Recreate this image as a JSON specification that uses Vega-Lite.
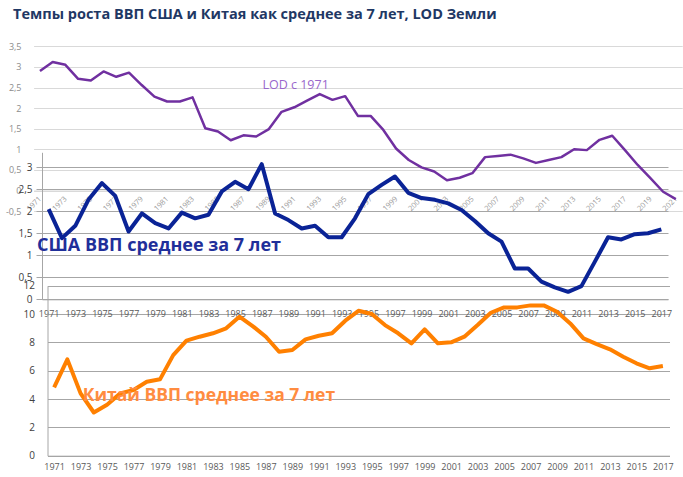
{
  "$schema": "https://vega.github.io/schema/vega-lite/v6.json",
  "width": 683,
  "height": 477,
  "autosize": {"type": "none"},
  "padding": 0,
  "background": "white",
  "title": {"text": "Темпы роста ВВП США и Китая как среднее за 7 лет, LOD Земли", "anchor": "start", "frame": "group", "dx": 13, "dy": 22, "offset": 0, "font": "Open Sans", "fontSize": 14.5, "fontWeight": "bold", "color": "#1F3864"},
  "config": {"view": {"stroke": null}, "axis": {"labelFont": "Open Sans", "ticks": false, "labelOverlap": false, "labelFlush": false, "title": null}},
  "datasets": {
    "lod": [
      {"year": 1971, "value": 2.90}, {"year": 1972, "value": 3.12}, {"year": 1973, "value": 3.05}, {"year": 1974, "value": 2.71},
      {"year": 1975, "value": 2.67}, {"year": 1976, "value": 2.89}, {"year": 1977, "value": 2.76}, {"year": 1978, "value": 2.86},
      {"year": 1979, "value": 2.56}, {"year": 1980, "value": 2.28}, {"year": 1981, "value": 2.16}, {"year": 1982, "value": 2.16},
      {"year": 1983, "value": 2.26}, {"year": 1984, "value": 1.51}, {"year": 1985, "value": 1.43}, {"year": 1986, "value": 1.22},
      {"year": 1987, "value": 1.34}, {"year": 1988, "value": 1.31}, {"year": 1989, "value": 1.49}, {"year": 1990, "value": 1.91},
      {"year": 1991, "value": 2.02}, {"year": 1992, "value": 2.18}, {"year": 1993, "value": 2.34}, {"year": 1994, "value": 2.20},
      {"year": 1995, "value": 2.29}, {"year": 1996, "value": 1.81}, {"year": 1997, "value": 1.81}, {"year": 1998, "value": 1.47},
      {"year": 1999, "value": 1.02}, {"year": 2000, "value": 0.74}, {"year": 2001, "value": 0.56}, {"year": 2002, "value": 0.46},
      {"year": 2003, "value": 0.25}, {"year": 2004, "value": 0.31}, {"year": 2005, "value": 0.42}, {"year": 2006, "value": 0.81},
      {"year": 2007, "value": 0.84}, {"year": 2008, "value": 0.87}, {"year": 2009, "value": 0.78}, {"year": 2010, "value": 0.67},
      {"year": 2011, "value": 0.74}, {"year": 2012, "value": 0.81}, {"year": 2013, "value": 1.00}, {"year": 2014, "value": 0.98},
      {"year": 2015, "value": 1.23}, {"year": 2016, "value": 1.33}, {"year": 2017, "value": 0.98}, {"year": 2018, "value": 0.62},
      {"year": 2019, "value": 0.30}, {"year": 2020, "value": -0.03}, {"year": 2021, "value": -0.21}
    ],
    "us": [
      {"year": 1971, "value": 2.05}, {"year": 1972, "value": 1.39}, {"year": 1973, "value": 1.67}, {"year": 1974, "value": 2.27},
      {"year": 1975, "value": 2.64}, {"year": 1976, "value": 2.35}, {"year": 1977, "value": 1.54}, {"year": 1978, "value": 1.95},
      {"year": 1979, "value": 1.73}, {"year": 1980, "value": 1.61}, {"year": 1981, "value": 1.97}, {"year": 1982, "value": 1.84},
      {"year": 1983, "value": 1.92}, {"year": 1984, "value": 2.45}, {"year": 1985, "value": 2.67}, {"year": 1986, "value": 2.50},
      {"year": 1987, "value": 3.07}, {"year": 1988, "value": 1.95}, {"year": 1989, "value": 1.80}, {"year": 1990, "value": 1.61},
      {"year": 1991, "value": 1.67}, {"year": 1992, "value": 1.41}, {"year": 1993, "value": 1.41}, {"year": 1994, "value": 1.84},
      {"year": 1995, "value": 2.39}, {"year": 1996, "value": 2.60}, {"year": 1997, "value": 2.79}, {"year": 1998, "value": 2.42},
      {"year": 1999, "value": 2.30}, {"year": 2000, "value": 2.26}, {"year": 2001, "value": 2.18}, {"year": 2002, "value": 2.03},
      {"year": 2003, "value": 1.78}, {"year": 2004, "value": 1.50}, {"year": 2005, "value": 1.31}, {"year": 2006, "value": 0.70},
      {"year": 2007, "value": 0.70}, {"year": 2008, "value": 0.40}, {"year": 2009, "value": 0.27}, {"year": 2010, "value": 0.17},
      {"year": 2011, "value": 0.30}, {"year": 2012, "value": 0.85}, {"year": 2013, "value": 1.41}, {"year": 2014, "value": 1.36},
      {"year": 2015, "value": 1.48}, {"year": 2016, "value": 1.50}, {"year": 2017, "value": 1.59}
    ],
    "cn": [
      {"year": 1971, "value": 4.83}, {"year": 1972, "value": 6.80}, {"year": 1973, "value": 4.40}, {"year": 1974, "value": 3.05},
      {"year": 1975, "value": 3.60}, {"year": 1976, "value": 4.40}, {"year": 1977, "value": 4.64}, {"year": 1978, "value": 5.22},
      {"year": 1979, "value": 5.39}, {"year": 1980, "value": 7.10}, {"year": 1981, "value": 8.12}, {"year": 1982, "value": 8.40},
      {"year": 1983, "value": 8.64}, {"year": 1984, "value": 8.99}, {"year": 1985, "value": 9.81}, {"year": 1986, "value": 9.15},
      {"year": 1987, "value": 8.40}, {"year": 1988, "value": 7.34}, {"year": 1989, "value": 7.46}, {"year": 1990, "value": 8.21},
      {"year": 1991, "value": 8.47}, {"year": 1992, "value": 8.64}, {"year": 1993, "value": 9.53}, {"year": 1994, "value": 10.23},
      {"year": 1995, "value": 10.00}, {"year": 1996, "value": 9.22}, {"year": 1997, "value": 8.64}, {"year": 1998, "value": 7.93},
      {"year": 1999, "value": 8.92}, {"year": 2000, "value": 7.93}, {"year": 2001, "value": 8.00}, {"year": 2002, "value": 8.40},
      {"year": 2003, "value": 9.22}, {"year": 2004, "value": 10.09}, {"year": 2005, "value": 10.47}, {"year": 2006, "value": 10.47},
      {"year": 2007, "value": 10.61}, {"year": 2008, "value": 10.61}, {"year": 2009, "value": 10.16}, {"year": 2010, "value": 9.34},
      {"year": 2011, "value": 8.28}, {"year": 2012, "value": 7.88}, {"year": 2013, "value": 7.51}, {"year": 2014, "value": 6.99},
      {"year": 2015, "value": 6.52}, {"year": 2016, "value": 6.17}, {"year": 2017, "value": 6.33}
    ]
  },
  "layer": [
    {
      "encoding": {
        "x": {"field": "year", "type": "quantitative",
          "scale": {"domain": [1970.5, 2021.5], "range": [33.6, 682.2], "nice": false, "zero": false},
          "axis": {"orient": "bottom", "offset": -286.5, "values": [1971,1973,1975,1977,1979,1981,1983,1985,1987,1989,1991,1993,1995,1997,1999,2001,2003,2005,2007,2009,2011,2013,2015,2017,2019,2021],
            "format": "d", "labelAngle": -45, "labelAlign": "right", "labelBaseline": "middle", "labelPadding": 7, "labelFontSize": 7.5, "labelColor": "#9A9A9A",
            "grid": false, "domain": true, "domainColor": "#D9D9D9"}},
        "y": {"field": "value", "type": "quantitative",
          "scale": {"domain": [-0.5, 3.5], "range": [211.1, 46.3], "nice": false, "zero": false},
          "axis": {"orient": "left", "offset": -21, "values": [-0.5, 0, 0.5, 1, 1.5, 2, 2.5, 3, 3.5],
            "labelExpr": "replace(toString(datum.value), '.', ',')", "labelPadding": 0, "labelFontSize": 9, "labelColor": "#8C8C8C",
            "grid": true, "gridColor": "#D9D9D9", "domain": false}}
      },
      "layer": [
        {"data": {"name": "lod"}, "mark": {"type": "line", "color": "#7030A0", "strokeWidth": 2.5, "strokeJoin": "round"}},
        {"data": {"values": [{"year": 1991.1, "value": 2.56, "label": "LOD с 1971"}]},
         "mark": {"type": "text", "align": "center", "baseline": "middle", "font": "Open Sans", "fontSize": 12.5, "color": "#9966CC"},
         "encoding": {"text": {"field": "label"}}}
      ]
    },
    {
      "encoding": {
        "x": {"field": "year", "type": "quantitative",
          "scale": {"domain": [1970.5, 2017.5], "range": [42, 668], "nice": false, "zero": false},
          "axis": {"orient": "bottom", "offset": -177.7, "values": [1971,1973,1975,1977,1979,1981,1983,1985,1987,1989,1991,1993,1995,1997,1999,2001,2003,2005,2007,2009,2011,2013,2015,2017],
            "format": "d", "labelAngle": 0, "labelPadding": 10, "labelFontSize": 9, "labelColor": "#595959",
            "grid": false, "domain": true, "domainColor": "#A6A6A6"}},
        "y": {"field": "value", "type": "quantitative",
          "scale": {"domain": [0, 3.34], "range": [299.3, 152.3], "nice": false, "zero": false},
          "axis": {"orient": "left", "offset": -42, "values": [0, 0.5, 1, 1.5, 2, 2.5, 3],
            "labelExpr": "replace(toString(datum.value), '.', ',')", "labelPadding": 4, "ticks": true, "tickSize": 6, "tickColor": "#A6A6A6",
            "labelFontSize": 10, "labelColor": "#404040",
            "grid": true, "gridColor": "#A6A6A6", "domain": true, "domainColor": "#A6A6A6"}}
      },
      "layer": [
        {"data": {"name": "us"}, "mark": {"type": "line", "color": "#0A2396", "strokeWidth": 4, "strokeJoin": "round"}},
        {"data": {"values": [{"year": 1970.12, "value": 1.22, "label": "США ВВП среднее за 7 лет"}]},
         "mark": {"type": "text", "align": "left", "baseline": "middle", "font": "Open Sans", "fontSize": 18, "fontWeight": "bold", "color": "#1F2F9A"},
         "encoding": {"text": {"field": "label"}}}
      ]
    },
    {
      "encoding": {
        "x": {"field": "year", "type": "quantitative",
          "scale": {"domain": [1970.5, 2017.5], "range": [47.5, 669.5], "nice": false, "zero": false},
          "axis": {"orient": "bottom", "offset": -21.3, "values": [1971,1973,1975,1977,1979,1981,1983,1985,1987,1989,1991,1993,1995,1997,1999,2001,2003,2005,2007,2009,2011,2013,2015,2017],
            "format": "d", "labelAngle": 0, "labelPadding": 7, "labelFontSize": 9, "labelColor": "#595959",
            "grid": false, "domain": true, "domainColor": "#A6A6A6"}},
        "y": {"field": "value", "type": "quantitative",
          "scale": {"domain": [0, 12], "range": [455.7, 285.7], "nice": false, "zero": false},
          "axis": {"orient": "left", "offset": -47.5, "values": [0, 2, 4, 6, 8, 10, 12],
            "labelPadding": 13, "labelFontSize": 10, "labelColor": "#404040",
            "grid": true, "gridColor": "#A6A6A6", "domain": true, "domainColor": "#A6A6A6"}}
      },
      "layer": [
        {"data": {"name": "cn"}, "mark": {"type": "line", "color": "#FF8000", "strokeWidth": 4, "strokeJoin": "round"}},
        {"data": {"values": [{"year": 1973.16, "value": 4.21, "label": "Китай ВВП среднее за 7 лет"}]},
         "mark": {"type": "text", "align": "left", "baseline": "middle", "font": "Open Sans", "fontSize": 17.5, "fontWeight": "bold", "color": "#FF8C40"},
         "encoding": {"text": {"field": "label"}}}
      ]
    }
  ],
  "resolve": {"scale": {"x": "independent", "y": "independent"}, "axis": {"x": "independent", "y": "independent"}}
}
